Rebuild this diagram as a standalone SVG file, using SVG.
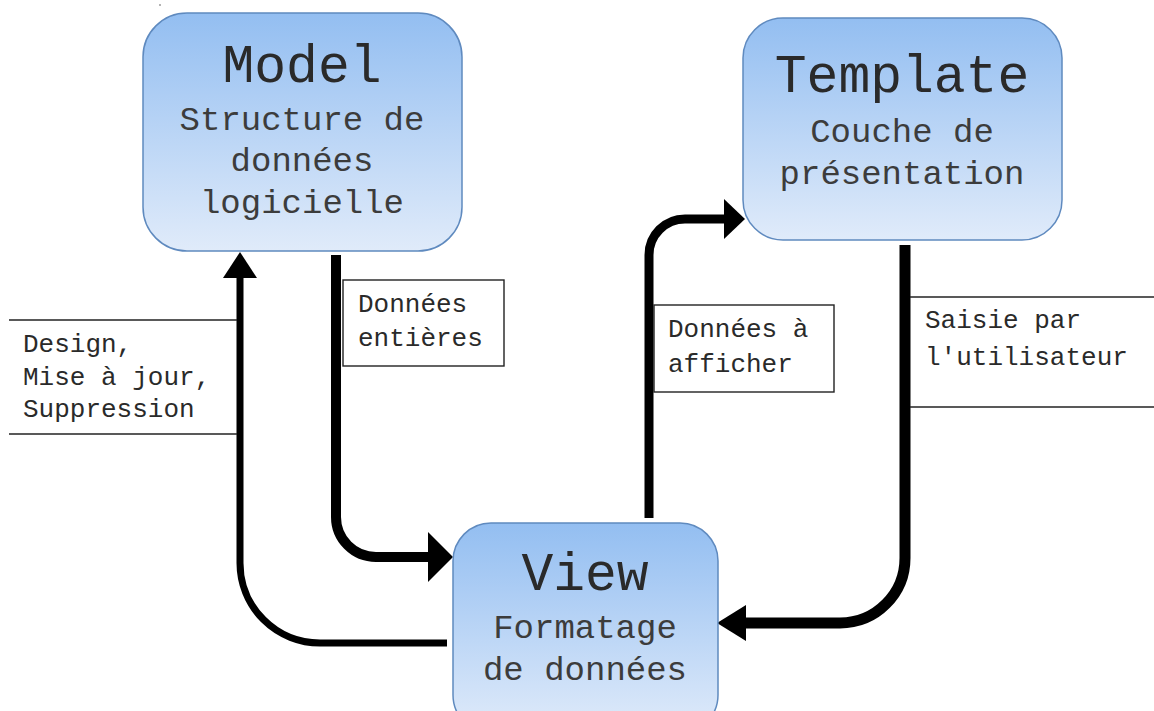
<svg xmlns="http://www.w3.org/2000/svg" width="1154" height="711" viewBox="0 0 1154 711">
  <defs>
    <linearGradient id="boxFill" x1="0" y1="0" x2="0" y2="1">
      <stop offset="0" stop-color="#93bef1"/>
      <stop offset="1" stop-color="#e0ebfa"/>
    </linearGradient>
  </defs>
  <style>
    .box { fill: url(#boxFill); stroke: #5f8abf; stroke-width: 1.5; }
    .title { font-family: "Liberation Mono", "DejaVu Sans Mono", monospace; font-size: 53px; fill: #2a2a2a; text-anchor: middle; }
    .sub { font-family: "Liberation Mono", "DejaVu Sans Mono", monospace; font-size: 34px; fill: #3c3c3c; text-anchor: middle; }
    .lbl { font-family: "Liberation Mono", "DejaVu Sans Mono", monospace; font-size: 26px; fill: #2a2a2a; }
    .frame { fill: #fff; stroke: #222; stroke-width: 1.4; }
    .rule { stroke: #222; stroke-width: 1.4; fill: none; }
    .wire { fill: none; stroke: #000; }
    .head { fill: #000; }
  </style>

  <rect width="1154" height="711" fill="#fff"/>
  <circle cx="160" cy="5" r="0.8" fill="#555"/>

  <!-- flows between the three layers -->
  <g id="connectors">
    <!-- Model -> View -->
    <path class="wire" stroke-width="10" d="M336 255 V517 A40 40 0 0 0 376 557 H432"/>
    <polygon class="head" points="428,532 453,557 428,582"/>
    <!-- View -> Model -->
    <path class="wire" stroke-width="7" d="M447 643 H320 A80 80 0 0 1 240 563 V274"/>
    <polygon class="head" points="223,278 240,252 257,278"/>
    <!-- View -> Template -->
    <path class="wire" stroke-width="9" d="M649 518 V255 A36 36 0 0 1 685 219 H728"/>
    <polygon class="head" points="724,199 745,219 724,239"/>
    <!-- Template -> View -->
    <path class="wire" stroke-width="11" d="M905 245 V558 A65 65 0 0 1 840 623 H742"/>
    <polygon class="head" points="746,605 717,623 746,641"/>
  </g>

  <!-- connector labels -->
  <g id="label-design">
    <line class="rule" x1="9" y1="320" x2="237" y2="320"/>
    <line class="rule" x1="9" y1="434" x2="237" y2="434"/>
    <text class="lbl" x="23" y="352">Design,</text>
    <text class="lbl" x="23" y="385">Mise à jour,</text>
    <text class="lbl" x="23" y="417">Suppression</text>
  </g>
  <g id="label-donnees-entieres">
    <rect class="frame" x="343" y="280" width="161" height="86"/>
    <text class="lbl" x="358" y="312">Données</text>
    <text class="lbl" x="358" y="346">entières</text>
  </g>
  <g id="label-donnees-afficher">
    <rect class="frame" x="654" y="305" width="180" height="87"/>
    <text class="lbl" x="668" y="337">Données à</text>
    <text class="lbl" x="668" y="372">afficher</text>
  </g>
  <g id="label-saisie">
    <line class="rule" x1="910" y1="297" x2="1154" y2="297"/>
    <line class="rule" x1="910" y1="407" x2="1154" y2="407"/>
    <text class="lbl" x="925" y="328">Saisie par</text>
    <text class="lbl" x="925" y="365">l'utilisateur</text>
  </g>

  <!-- nodes -->
  <g id="model">
    <rect class="box" x="143" y="13" width="319" height="238" rx="44" ry="44"/>
    <text class="title" x="302" y="82">Model</text>
    <text class="sub" x="302" y="130">Structure de</text>
    <text class="sub" x="302" y="171">données</text>
    <text class="sub" x="302" y="213">logicielle</text>
  </g>
  <g id="template">
    <rect class="box" x="743" y="18" width="319" height="222" rx="40" ry="40"/>
    <text class="title" x="902" y="92">Template</text>
    <text class="sub" x="902" y="142">Couche de</text>
    <text class="sub" x="902" y="184">présentation</text>
  </g>
  <g id="view">
    <rect class="box" x="453" y="523" width="265" height="210" rx="38" ry="38"/>
    <text class="title" x="585" y="590">View</text>
    <text class="sub" x="585" y="638">Formatage</text>
    <text class="sub" x="585" y="680">de données</text>
  </g>
</svg>
